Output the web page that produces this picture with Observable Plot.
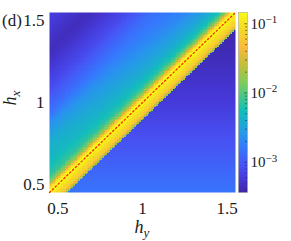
<!DOCTYPE html>
<html><head><meta charset="utf-8">
<script src="https://cdn.jsdelivr.net/npm/d3@7"></script>
<script src="https://cdn.jsdelivr.net/npm/@observablehq/plot@0.6"></script>
<style>
body{margin:0;background:#fff;}
#wrap{position:relative;width:291px;height:241px;}
#wrap svg{position:absolute;left:0;top:0;}
#wrap svg, #wrap svg text, #wrap svg tspan{font-family:"Liberation Serif","DejaVu Serif","Times New Roman",serif !important;}
</style></head><body><div id="wrap"></div>
<script>
// ---- data ----
const hRange = [0.45, 1.55];          // h_y and h_x extent
const xTicks = [0.5, 1, 1.5];
const yTicks = [0.5, 1, 1.5];
const gridCount = 110;                // cells per side
// profile across the diagonal: offset d = h_x - h_y, log10 value
const offsets = [-0.105, -0.095, -0.085, -0.075, -0.06, -0.04, -0.02, 0, 0.01, 0.02, 0.03, 0.04, 0.05, 0.06, 0.08, 0.1, 0.15, 0.2, 0.3, 0.4, 0.5, 0.65, 0.8, 0.87, 0.95, 1.1];
const logLow  = [-1.88, -1.67, -1.41, -1.22, -1.13, -1.05, -0.95, -0.84, -0.86, -0.94, -1.10, -1.36, -1.62, -1.80, -1.98, -2.14, -2.24, -2.32, -2.40, -2.58, -2.87, -3.13, -3.31, -3.36, -3.31, -3.20];
const logHigh = [-1.88, -1.67, -1.41, -1.22, -1.13, -1.05, -0.95, -0.84, -0.86, -0.97, -1.15, -1.41, -1.67, -1.88, -2.09, -2.24, -2.42, -2.53, -2.71, -2.81, -2.87, -3.13, -3.31, -3.36, -3.31, -3.20];
const profileAt = [0.6, 1.4];         // position along diagonal of logLow / logHigh
const cutOffset = -0.105;             // below this offset: low region
const belowHx  = [0.45, 0.75, 1.0, 1.3, 1.55];
const belowLog = [-2.82, -3.05, -3.24, -3.38, -3.43];
const diagonal = [0.45, 1.55];
const colorLogDomain = [-3.438, -0.837];
const cbarMajor = [-3, -2, -1];
const cbarMinorFactors = [2, 3, 4, 5, 6, 7, 8, 9];
const parulaStops  = [0, 0.07, 0.14, 0.25, 0.32, 0.45, 0.54, 0.61, 0.7, 0.8, 0.9, 1];
const parulaColors = ["#3e26a8", "#4538d7", "#4850f3", "#3579fd", "#2796eb", "#12beb9", "#50c682", "#81cc59", "#bebe3c", "#fab93c", "#f5d728", "#f9fb15"];

function lerpTable(xs, ys, x) {
  if (x <= xs[0]) return ys[0];
  for (let k = 1; k < xs.length; k++) {
    if (x <= xs[k]) { const u = (x - xs[k-1]) / (xs[k] - xs[k-1]); return ys[k-1] + u * (ys[k] - ys[k-1]); }
  }
  return ys[ys.length - 1];
}
function parula(t) {
  t = Math.max(0, Math.min(1, t));
  for (let k = 1; k < parulaStops.length; k++) {
    if (t <= parulaStops[k]) return d3.interpolateRgb(parulaColors[k-1], parulaColors[k])((t - parulaStops[k-1]) / (parulaStops[k] - parulaStops[k-1]));
  }
  return parulaColors[parulaColors.length - 1];
}

const step = (hRange[1] - hRange[0]) / gridCount;
const cells = [];
for (let i = 0; i < gridCount; i++) {
  for (let j = 0; j < gridCount; j++) {
    const hy = hRange[0] + (i + 0.5) * step;
    const hx = hRange[0] + (j + 0.5) * step;
    const d = Math.round((hx - hy) * 1000) / 1000;
    const s = (hx + hy) / 2;
    let lv;
    if (d < cutOffset) lv = lerpTable(belowHx, belowLog, hx);
    else {
      const w = Math.max(0, Math.min(1, (s - profileAt[0]) / (profileAt[1] - profileAt[0])));
      lv = (1 - w) * lerpTable(offsets, logLow, d) + w * lerpTable(offsets, logHigh, d);
    }
    cells.push({hy, hx, v: Math.pow(10, lv)});
  }
}

const colorScale = {type: "log", domain: colorLogDomain.map(v => Math.pow(10, v)), interpolate: parula};

const main = Plot.plot({
  width: 291, height: 241,
  marginLeft: 49, marginRight: 56, marginTop: 12, marginBottom: 49,
  x: {domain: hRange, ticks: xTicks, tickFormat: d => String(d), tickSize: 0, tickPadding: 9, label: null},
  y: {domain: hRange, ticks: yTicks, tickFormat: d => String(d), tickSize: 0, tickPadding: 5, label: null},
  color: colorScale,
  marks: [
    Plot.raster(cells, {x: "hy", y: "hx", fill: "v", x1: hRange[0], x2: hRange[1], y1: hRange[0], y2: hRange[1], width: gridCount, height: gridCount, imageRendering: "pixelated"}),
    Plot.line(diagonal, {x: d => d, y: d => d, stroke: "#ff2200", strokeWidth: 1.3, strokeDasharray: "1.5,2.5"})
  ]
});

const minorTicks = [];
for (const e of [-4, -3, -2, -1]) for (const f of cbarMinorFactors) {
  const l = e + Math.log10(f);
  if (l > colorLogDomain[0] && l < colorLogDomain[1]) minorTicks.push(l);
}

const cbar = Plot.plot({
  width: 291, height: 241,
  marginLeft: 238, marginRight: 44, marginTop: 12, marginBottom: 49,
  x: {domain: [0, 1], axis: null},
  y: {domain: colorLogDomain, ticks: cbarMajor, tickFormat: d => "10^" + d, axis: "right", tickSize: 0, tickPadding: 3, label: null},
  color: colorScale,
  marks: [
    Plot.raster({fill: (x, y) => Math.pow(10, y), x1: 0, x2: 1, y1: colorLogDomain[0], y2: colorLogDomain[1], width: 1, height: 180, imageRendering: "pixelated"}),
    Plot.ruleY(minorTicks, {x1: 0.8, x2: 1, stroke: "#262626", strokeWidth: 0.6}),
    Plot.ruleY(cbarMajor, {x1: 0.7, x2: 1, stroke: "#262626", strokeWidth: 0.6}),
    Plot.frame({stroke: "#9a9a9a", strokeWidth: 0.5})
  ]
});

// font sizes and transparent backgrounds
for (const [el, size] of [[main, 17], [cbar, 15]]) {
  d3.select(el).attr("font-size", size)
    .style("font-size", size + "px").style("background", "transparent").style("color", "#1a1a1a");
  d3.select(el).selectAll("text").attr("font-size", size).attr("fill", "#1a1a1a");
}

// superscript exponents on colorbar labels
cbar.querySelectorAll('g[aria-label="y-axis tick label"] text').forEach(t => {
  const parts = t.textContent.split("^");
  t.textContent = "";
  const sel = d3.select(t);
  sel.append("tspan").text(parts[0]);
  sel.append("tspan").attr("dy", "-0.5em").attr("font-size", "11px").text(parts[1].replace("-", "\u2212"));
});

const yS = main.scale("y");
const svg = d3.select(main);
svg.append("text").attr("x", 2).attr("y", yS.apply(1.5)).attr("dy", "0.32em").attr("text-anchor", "start")
  .attr("font-size", 17).attr("fill", "#1a1a1a").text("(d)");
const xl = svg.append("text").attr("x", 142).attr("y", 233).attr("text-anchor", "middle")
  .attr("fill", "#1a1a1a").attr("font-style", "italic");
xl.append("tspan").attr("font-size", 18).text("h");
xl.append("tspan").attr("font-size", 13).attr("dy", 4).text("y");
const yl = svg.append("text").attr("transform", "translate(16,98) rotate(-90)").attr("text-anchor", "middle")
  .attr("fill", "#1a1a1a").attr("font-style", "italic");
yl.append("tspan").attr("font-size", 18).text("h");
yl.append("tspan").attr("font-size", 13).attr("dy", 4).text("x");

document.getElementById("wrap").append(main, cbar);
</script></body></html>
